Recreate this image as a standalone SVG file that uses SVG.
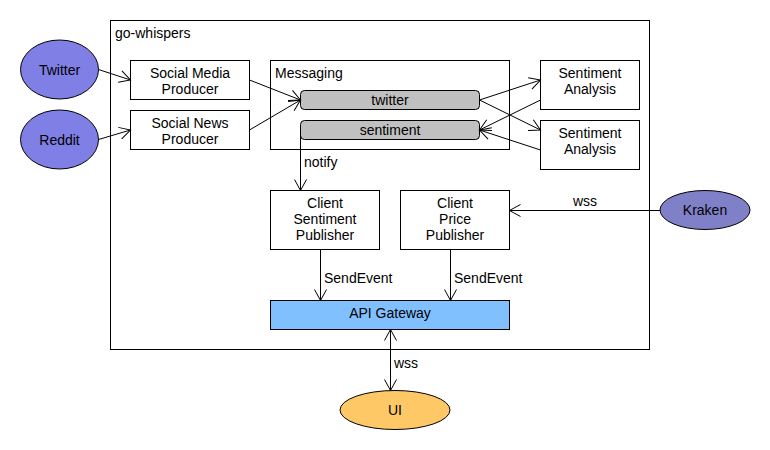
<svg xmlns="http://www.w3.org/2000/svg" width="770" height="450" viewBox="0 0 770 450">
<defs>
<marker id="a" markerWidth="14" markerHeight="14" refX="12" refY="7" orient="auto" markerUnits="userSpaceOnUse">
<path d="M1,1 L12,7 L1,13" fill="none" stroke="#000" stroke-width="1"/>
</marker>
<marker id="as" markerWidth="14" markerHeight="14" refX="2" refY="7" orient="auto" markerUnits="userSpaceOnUse">
<path d="M13,1 L2,7 L13,13" fill="none" stroke="#000" stroke-width="1"/>
</marker>
<style>
text{font-family:"Liberation Sans",Arial,sans-serif;font-size:14px;fill:#000}
.c{text-anchor:middle}
.box{fill:#fff;stroke:#000;stroke-width:1}
.pill{fill:#c0c0c0;stroke:#000;stroke-width:1}
.ext{fill:#7f7fe6;stroke:#000;stroke-width:1}
.e{fill:none;stroke:#000;stroke-width:1;marker-end:url(#a)}
</style>
</defs>
<rect width="770" height="450" fill="#fff"/>
<g id="go-whispers">
<rect class="box" x="110.5" y="20.5" width="539" height="329"/>
<text x="115" y="38">go-whispers</text>
</g>
<g id="twitter-src">
<ellipse class="ext" cx="59.5" cy="69.5" rx="39" ry="29.5"/>
<text class="c" x="59.5" y="74.5">Twitter</text>
</g>
<g id="reddit-src">
<ellipse class="ext" cx="59.5" cy="139.5" rx="39" ry="29.5"/>
<text class="c" x="59.5" y="144.5">Reddit</text>
</g>
<g id="smp">
<rect class="box" x="130.5" y="60.5" width="119" height="39"/>
<text class="c" x="190" y="77.5">Social Media</text>
<text class="c" x="190" y="93.5">Producer</text>
</g>
<g id="snp">
<rect class="box" x="130.5" y="110.5" width="119" height="39"/>
<text class="c" x="190" y="127.5">Social News</text>
<text class="c" x="190" y="143.5">Producer</text>
</g>
<g id="messaging">
<rect class="box" x="270.5" y="60.5" width="239" height="89"/>
<text x="275" y="78">Messaging</text>
</g>
<g id="twitter-topic">
<rect class="pill" x="300.5" y="90.5" width="179" height="19" rx="4"/>
<text class="c" x="390" y="105">twitter</text>
</g>
<g id="sentiment-topic">
<rect class="pill" x="300.5" y="120.5" width="179" height="19" rx="4"/>
<text class="c" x="390" y="135">sentiment</text>
</g>
<g id="sa1">
<rect class="box" x="540.5" y="60.5" width="99" height="49"/>
<text class="c" x="590" y="78">Sentiment</text>
<text class="c" x="590" y="94">Analysis</text>
</g>
<g id="sa2">
<rect class="box" x="540.5" y="120.5" width="99" height="49"/>
<text class="c" x="590" y="138">Sentiment</text>
<text class="c" x="590" y="154">Analysis</text>
</g>
<g id="csp">
<rect class="box" x="270.5" y="190.5" width="109" height="59"/>
<text class="c" x="325" y="208">Client</text>
<text class="c" x="325" y="224">Sentiment</text>
<text class="c" x="325" y="240">Publisher</text>
</g>
<g id="cpp">
<rect class="box" x="400.5" y="190.5" width="109" height="59"/>
<text class="c" x="455" y="208">Client</text>
<text class="c" x="455" y="224">Price</text>
<text class="c" x="455" y="240">Publisher</text>
</g>
<g id="api">
<rect x="270.5" y="300.5" width="239" height="29" fill="#80c0ff" stroke="#000"/>
<text class="c" x="390" y="318">API Gateway</text>
</g>
<g id="kraken">
<ellipse cx="705" cy="210" rx="45" ry="19.5" fill="#8080c8" stroke="#000"/>
<text class="c" x="705" y="215">Kraken</text>
</g>
<g id="ui">
<ellipse cx="395" cy="410" rx="55" ry="19.5" fill="#ffc866" stroke="#000"/>
<text class="c" x="395" y="415">UI</text>
</g>
<g id="connectors">
<path class="e" d="M98.5,69.5 L130.5,80"/>
<path class="e" d="M98.5,139.5 L130.5,130"/>
<path class="e" d="M249.5,80 L300.5,100"/>
<path class="e" d="M249.5,130 L300.5,100"/>
<path class="e" d="M479.5,100 L540.5,80"/>
<path class="e" d="M479.5,100 L540.5,130"/>
<path class="e" d="M540.5,100 L479.5,130"/>
<path class="e" d="M540.5,150 L479.5,130"/>
<path class="e" d="M300.5,134 L300.5,190.5"/>
<text x="304" y="167">notify</text>
<path class="e" d="M660,210.5 L509.5,210.5"/>
<text x="573" y="206">wss</text>
<path class="e" d="M320.5,249.5 L320.5,300.5"/>
<text x="324" y="283">SendEvent</text>
<path class="e" d="M450.5,249.5 L450.5,300.5"/>
<text x="454" y="283">SendEvent</text>
<path d="M390.5,329.5 L390.5,390.5" fill="none" stroke="#000" marker-start="url(#as)" marker-end="url(#a)"/>
<text x="394" y="368">wss</text>
</g>
</svg>
